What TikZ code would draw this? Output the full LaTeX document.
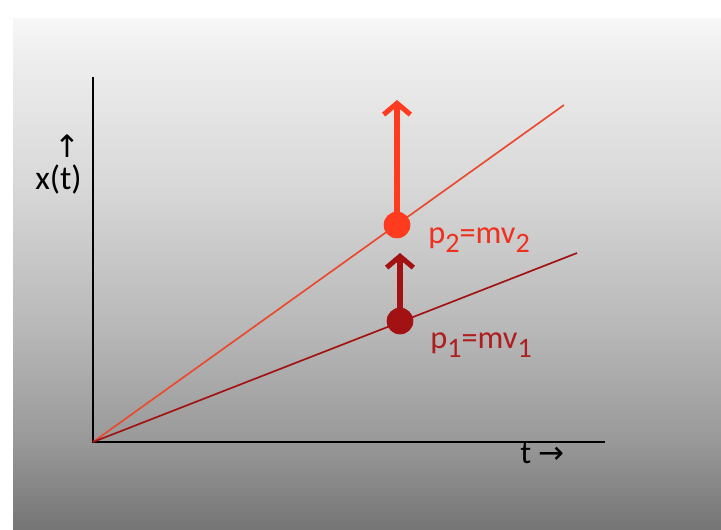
\documentclass[tikz,border=0pt]{standalone}
\usepackage{fontspec}
\setmainfont{Carlito}
\newfontfamily\arrowfont{DejaVu Sans}
\usetikzlibrary{arrows.meta, positioning}

\definecolor{bgtop}{gray}{0.97}
\definecolor{bgupper}{gray}{0.93}
\definecolor{bghigh}{gray}{0.85}
\definecolor{bgmid}{gray}{0.72}
\definecolor{bglow}{gray}{0.60}
\definecolor{bgbottom}{gray}{0.46}
\definecolor{fastred}{HTML}{FF3B1F}
\definecolor{fastline}{HTML}{EA4A2E}
\definecolor{fasttext}{HTML}{F0301E}
\definecolor{slowred}{HTML}{A31212}
\definecolor{slowtext}{HTML}{AE1E1E}

\pgfdeclareverticalshading{slidebg}{100bp}{color(0bp)=(bgbottom); color(25bp)=(bgbottom); color(33.7bp)=(bglow); color(44.5bp)=(bgmid); color(59.1bp)=(bghigh); color(70.9bp)=(bgupper); color(75bp)=(bgtop); color(100bp)=(bgtop)}

% lowered, nearly full size index digit
\newcommand{\lowidx}[1]{\raisebox{-7pt}{\fontsize{20}{22}\selectfont #1}}

\tikzset{
	axis/.style={
		line width=2.1pt,
		black
	},
	worldline/.style={
		line width=1.2pt
	},
	mass/.style={
		circle,
		inner sep=0pt,
		minimum size=0.66cm
	},
	momentum/.style={
		line width=3.6pt,
		-{Straight Barb[length=8pt, width=19pt]}
	},
	plabel/.style={
		inner sep=0pt,
		anchor=base west,
		font=\fontsize{23}{27}\selectfont
	}
}

\begin{document}
\begin{tikzpicture}[x=0.025cm, y=-0.025cm]
		
		\useasboundingbox (0,0) rectangle (721,529);
		\shade [shading=slidebg] (13,18) rectangle (721,529);
		
		% axes
		\coordinate (origin) at (93,442);
		\coordinate (ytop)   at (93,77);
		\coordinate (xend)   at (605,442);
		\draw [axis] (ytop) -- (origin) -- (xend);
		
		% world lines
		\coordinate (end2) at (564,105);
		\coordinate (end1) at (577,253);
		\draw [worldline, fastline] (origin) -- (end2);
		\draw [worldline, slowred]  (origin) -- (end1);
		
		% masses and momentum arrows
		\node (dot2) [mass, fill=fastred] at (397,225) {};
		\node (dot1) [mass, fill=slowred] at (400,321) {};
		\coordinate (tip2) at (397,100);
		\coordinate (tip1) at (400,253);
		\draw [momentum, fastred] (dot2.center) -- (tip2);
		\draw [momentum, slowred] (dot1.center) -- (tip1);
		\node [mass, fill=fastred] at (dot2) {};
		\node [mass, fill=slowred] at (dot1) {};
		
		% labels
		\node (p2) [plabel, text=fasttext] at (428,243) {p\lowidx{2}=mv\lowidx{2}};
		\node (p1) [plabel, text=slowtext] at (430,348) {p\lowidx{1}=mv\lowidx{1}};
		\node (xlab)   [plabel, font=\fontsize{24}{28}\selectfont] at (35,189) {x(t)};
		\node (xarrow) [inner sep=0pt, font=\arrowfont\fontsize{22}{24}\selectfont] at (67,146) {↑};
		\node (tlab)   [plabel] at (520,463) {t {\arrowfont\fontsize{22}{24}\selectfont →}};
		
	\end{tikzpicture}
\end{document}
